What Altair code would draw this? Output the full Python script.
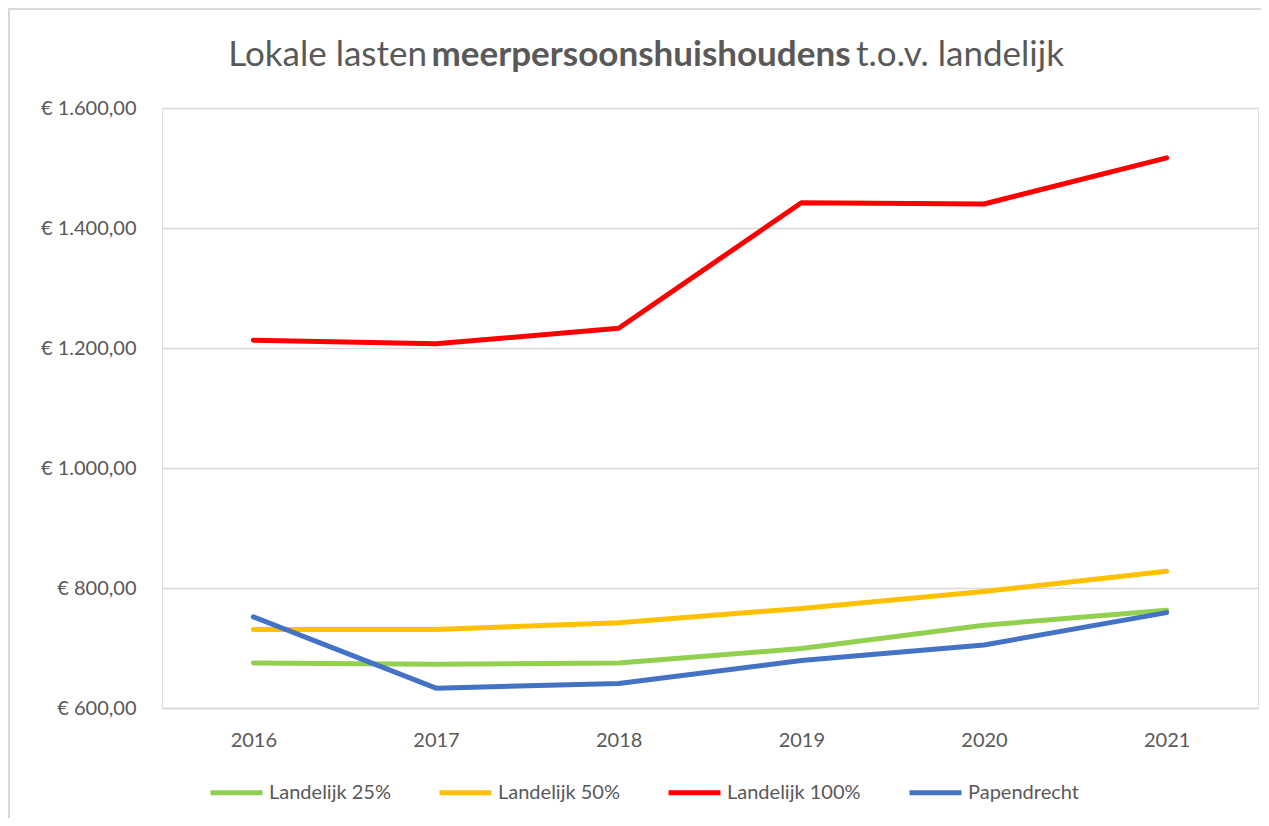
import altair as alt
import pandas as pd

years = ["2016", "2017", "2018", "2019", "2020", "2021"]
series_names = ["Landelijk 25%", "Landelijk 50%", "Landelijk 100%", "Papendrecht"]
landelijk_25 = [675, 673, 675, 699, 738, 763]
landelijk_50 = [731, 731, 742, 766, 794, 828]
landelijk_100 = [1213, 1207, 1233, 1442, 1440, 1517]
papendrecht = [752, 633, 641, 679, 705, 759]
colors = ["#92D050", "#FFC000", "#FF0000", "#4472C4"]

rows = []
for name, vals in zip(series_names, [landelijk_25, landelijk_50, landelijk_100, papendrecht]):
    for y, v in zip(years, vals):
        rows.append({"jaar": y, "serie": name, "waarde": v})
df = pd.DataFrame(rows)

FONT = "Lato"
GRAY = "#595959"

y_label = ("'€ ' + replace(replace(replace(format(datum.value, ',.2f'), ',', 'X'), '.', ','), 'X', '.')")

lines = alt.Chart(df).mark_line(strokeWidth=5, strokeCap="round", strokeJoin="round").encode(
    x=alt.X("jaar:N", sort=years, title=None,
            scale=alt.Scale(paddingInner=0, paddingOuter=0.5),
            axis=alt.Axis(labelAngle=0, labelFontSize=20, labelColor=GRAY, labelFont=FONT,
                          ticks=False, domainColor="#d9d9d9", domainWidth=1.5,
                          labelPadding=22, grid=False)),
    y=alt.Y("waarde:Q", title=None,
            scale=alt.Scale(domain=[600, 1600], nice=False, zero=False),
            axis=alt.Axis(values=[600, 800, 1000, 1200, 1400, 1600], labelExpr=y_label,
                          labelFontSize=20, labelColor=GRAY, labelFont=FONT, ticks=False,
                          domain=False, gridColor="#d9d9d9", gridWidth=1.5, labelPadding=26)),
    color=alt.Color("serie:N", sort=series_names,
                    scale=alt.Scale(domain=series_names, range=colors),
                    legend=alt.Legend(title=None, orient="none", direction="horizontal",
                                      legendX=46, legendY=656, symbolType="stroke",
                                      symbolSize=2704, symbolStrokeWidth=5,
                                      labelFontSize=20, labelColor=GRAY, labelFont=FONT,
                                      labelOffset=4, columnPadding=38, columns=4)),
    order=alt.Order("serie_order:Q"),
).transform_calculate(
    serie_order="indexof(['Landelijk 25%','Landelijk 50%','Landelijk 100%','Papendrecht'], datum.serie)"
)

title_df = pd.DataFrame({"t": [0]})
t1 = alt.Chart(title_df).mark_text(text="Lokale lasten", align="right", baseline="alphabetic",
                                   fontSize=35, font=FONT, color=GRAY, fontWeight="normal").encode(
    x=alt.value(265), y=alt.value(-42))
t2 = alt.Chart(title_df).mark_text(text="meerpersoonshuishoudens", align="center", baseline="alphabetic",
                                   fontSize=35, font=FONT, color=GRAY, fontWeight="bold").encode(
    x=alt.value(479), y=alt.value(-42))
t3 = alt.Chart(title_df).mark_text(text="t.o.v. landelijk", align="left", baseline="alphabetic",
                                   fontSize=35, font=FONT, color=GRAY, fontWeight="normal").encode(
    x=alt.value(694), y=alt.value(-42))

border_top = alt.Chart(title_df).mark_rule(color="#d9d9d9", strokeWidth=2).encode(
    x=alt.value(-154), x2=alt.value(1110), y=alt.value(-99), y2=alt.value(-99))
border_left = alt.Chart(title_df).mark_rule(color="#d9d9d9", strokeWidth=2).encode(
    x=alt.value(-153), x2=alt.value(-153), y=alt.value(-100), y2=alt.value(720))

chart = alt.layer(border_top, border_left, lines, t1, t2, t3).properties(
    width=1096, height=600,
    padding={"left": 154, "top": 100, "right": 3, "bottom": 110},
    autosize=alt.AutoSizeParams(type="none"),
).configure_view(stroke=None).configure(background="white")

chart.save("out.html", embed_options={"renderer": "svg", "actions": False})
